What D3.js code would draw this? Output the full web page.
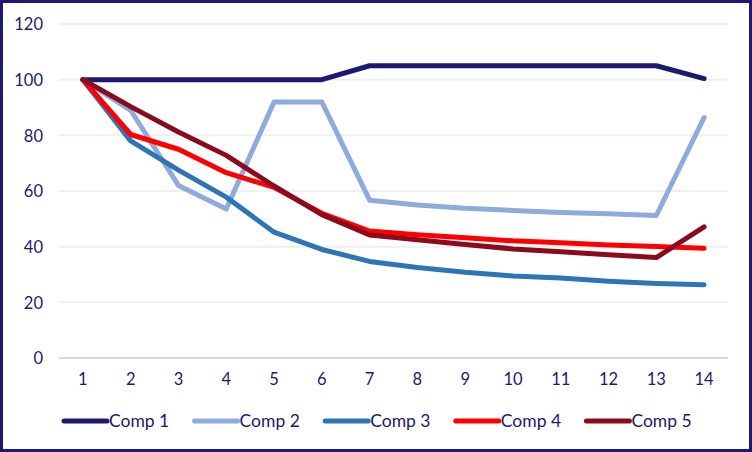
<!DOCTYPE html>
<html><head><meta charset="utf-8">
<script src="https://cdn.jsdelivr.net/npm/d3@7"></script>
<style>
html,body{margin:0;padding:0;background:#fff;}
svg{display:block;}
text{font-family:"Gill Sans","Gill Sans MT",Lato,"Open Sans",sans-serif;fill:#1B1A6B;}
</style></head>
<body>
<script>
const categories = ["1","2","3","4","5","6","7","8","9","10","11","12","13","14"];
const yTicks = [0,20,40,60,80,100,120];
const seriesNames = ["Comp 1","Comp 2","Comp 3","Comp 4","Comp 5"];
const seriesColors = ["#1B1A6E","#8FAADC","#2E75B6","#FF0000","#8B0A1E"];
const comp1 = [100,100,100,100,100,100,105,105,105,105,105,105,105,100.4];
const comp2 = [100,89,62,53.5,92,92,56.7,55,53.8,53,52.3,51.8,51.2,86.4];
const comp3 = [100,78,67.5,57.8,45.2,39,34.7,32.5,30.8,29.5,28.7,27.6,26.8,26.3];
const comp4 = [100,80.3,75,66.6,61.3,52,45.6,44.3,43.2,42.1,41.4,40.6,40.1,39.4];
const comp5 = [100,90.3,81.2,72.8,61.8,51.5,44.2,42.5,40.8,39.2,38.2,37.1,36.1,47.1];
const seriesValues = [comp1,comp2,comp3,comp4,comp5];

const W = 752, H = 452;
const svg = d3.select("body").append("svg").attr("width",W).attr("height",H);

// frame
svg.append("rect").attr("x",1.5).attr("y",1.5).attr("width",W-3).attr("height",H-3)
  .attr("fill","#fff").attr("stroke","#1B1A6E").attr("stroke-width",3);

const plot = {left:59, right:728, top:24, bottom:358};
const x = d3.scaleBand().domain(categories).range([plot.left, plot.right]);
const y = d3.scaleLinear().domain([0,120]).range([plot.bottom, plot.top]);

// gridlines
svg.append("g").selectAll("line").data(yTicks).join("line")
  .attr("x1",plot.left).attr("x2",plot.right)
  .attr("y1",d=>y(d)).attr("y2",d=>y(d))
  .attr("stroke",d=>d===0?"#D9D9D9":"#EFEFEF").attr("stroke-width",2);

// y axis labels
const yAxis = d3.axisLeft(y).tickValues(yTicks).tickSize(0).tickPadding(0).tickFormat(d3.format("d"));
const gy = svg.append("g").attr("transform",`translate(${43},0)`).call(yAxis);
gy.select(".domain").remove();
gy.selectAll("text").attr("font-size",16.5).style("fill","#1B1A6B").attr("dy","0.35em");

// x axis labels
const xAxis = d3.axisBottom(x).tickSize(0).tickPadding(0);
const gx = svg.append("g").attr("transform",`translate(0,${373})`).call(xAxis);
gx.select(".domain").remove();
gx.selectAll("text").attr("font-size",16.5).style("fill","#1B1A6B").attr("dy","0.35em").attr("y",6);

// lines
const line = d3.line().x((d,i)=>x(categories[i])+x.bandwidth()/2).y(d=>y(d));
svg.append("g").selectAll("path").data(seriesValues).join("path")
  .attr("d",d=>line(d)).attr("fill","none")
  .attr("stroke",(d,i)=>seriesColors[i]).attr("stroke-width",5)
  .attr("stroke-linejoin","round").attr("stroke-linecap","round");

// legend
const legX = d3.scaleLinear().domain([0,1]).range([64,194.6]);
const leg = svg.append("g").selectAll("g").data(seriesNames).join("g")
  .attr("transform",(d,i)=>`translate(${legX(i)},${421})`);
leg.append("line").attr("x1",0).attr("x2",43).attr("y1",0).attr("y2",0)
  .attr("stroke",(d,i)=>seriesColors[i]).attr("stroke-width",5).attr("stroke-linecap","round");
leg.append("text").attr("x",45).attr("y",0).attr("dy","0.35em").attr("font-size",17.5)
  .style("fill","#1B1A6B").text(d=>d);
</script>
</body></html>
